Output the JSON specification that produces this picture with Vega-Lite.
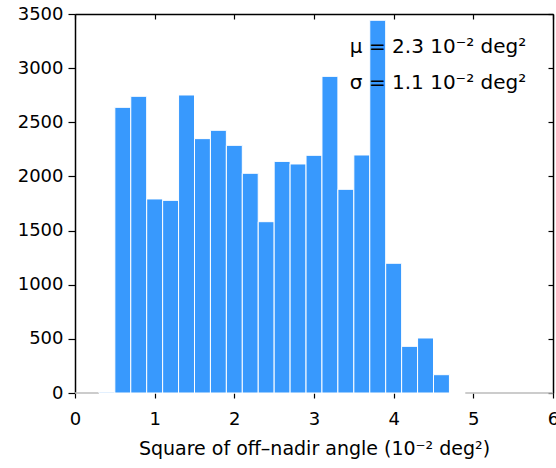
{
  "$schema": "https://vega.github.io/schema/vega-lite/v6.json",
  "autosize": "none",
  "width": 478,
  "height": 379,
  "padding": {"left": 75, "top": 14, "right": 3, "bottom": 75},
  "background": "white",
  "config": {
    "view": {"stroke": null},
    "font": "DejaVu Sans",
    "axis": {"grid": false, "domainColor": "black", "tickColor": "black", "labelColor": "black", "titleColor": "black", "domainWidth": 1.5, "tickWidth": 1.2}
  },
  "datasets": {
    "bins": [
      {"x0": 0.0, "x1": 0.3, "count": 0},
      {"x0": 0.3, "x1": 0.5, "count": 8},
      {"x0": 0.5, "x1": 0.7, "count": 2638},
      {"x0": 0.7, "x1": 0.9, "count": 2740},
      {"x0": 0.9, "x1": 1.1, "count": 1792},
      {"x0": 1.1, "x1": 1.3, "count": 1779},
      {"x0": 1.3, "x1": 1.5, "count": 2752},
      {"x0": 1.5, "x1": 1.7, "count": 2349},
      {"x0": 1.7, "x1": 1.9, "count": 2426},
      {"x0": 1.9, "x1": 2.1, "count": 2287},
      {"x0": 2.1, "x1": 2.3, "count": 2029},
      {"x0": 2.3, "x1": 2.5, "count": 1582},
      {"x0": 2.5, "x1": 2.7, "count": 2139},
      {"x0": 2.7, "x1": 2.9, "count": 2115},
      {"x0": 2.9, "x1": 3.1, "count": 2195},
      {"x0": 3.1, "x1": 3.3, "count": 2924},
      {"x0": 3.3, "x1": 3.5, "count": 1881},
      {"x0": 3.5, "x1": 3.7, "count": 2198},
      {"x0": 3.7, "x1": 3.9, "count": 3442},
      {"x0": 3.9, "x1": 4.1, "count": 1198},
      {"x0": 4.1, "x1": 4.3, "count": 431},
      {"x0": 4.3, "x1": 4.5, "count": 508},
      {"x0": 4.5, "x1": 4.7, "count": 169},
      {"x0": 4.9, "x1": 6.0, "count": 0}
    ],
    "notes": [
      {"x": 3.45, "y": 3195, "label": "μ = 2.3 10⁻² deg²"},
      {"x": 3.45, "y": 2863, "label": "σ = 1.1 10⁻² deg²"}
    ]
  },
  "resolve": {"axis": {"x": "independent", "y": "independent"}},
  "layer": [
    {
      "data": {"name": "bins"},
      "mark": {"type": "rect", "strokeWidth": 1},
      "encoding": {
        "x": {"field": "x0", "type": "quantitative",
              "scale": {"domain": [0, 6], "nice": false, "zero": false},
              "axis": {"orient": "bottom", "values": [0, 1, 2, 3, 4, 5, 6], "format": "d", "domain": false, "tickSize": 5, "labelFontSize": 18, "labelPadding": 12, "labelFlush": false,
                       "title": "Square of off–nadir angle (10⁻² deg²)", "titleFontSize": 19, "titleFontWeight": "normal", "titlePadding": 11}},
        "x2": {"field": "x1"},
        "y": {"field": "count", "type": "quantitative",
              "scale": {"domain": [0, 3500], "nice": false},
              "axis": {"orient": "left", "values": [0, 500, 1000, 1500, 2000, 2500, 3000, 3500], "format": "d", "tickSize": 7, "labelFontSize": 18, "labelPadding": 5, "title": null}},
        "y2": {"datum": 0},
        "fill": {"value": "#3899fd"},
        "stroke": {"condition": {"test": "datum.count == 0", "value": "#bbbbbb"}, "value": "#ffffff"}
      }
    },
    {
      "data": {"name": "bins"},
      "mark": {"type": "point", "opacity": 0},
      "encoding": {
        "x": {"field": "x1", "type": "quantitative",
              "axis": {"orient": "top", "values": [0, 1, 2, 3, 4, 5, 6], "domain": true, "labels": false, "ticks": true, "tickSize": -5, "title": null}},
        "y": {"field": "count", "type": "quantitative",
              "axis": {"orient": "right", "values": [0, 500, 1000, 1500, 2000, 2500, 3000, 3500], "domain": true, "labels": false, "ticks": true, "tickSize": -5, "title": null}}
      }
    },
    {
      "data": {"name": "notes"},
      "mark": {"type": "text", "align": "left", "baseline": "middle", "fontSize": 20, "color": "black"},
      "encoding": {
        "x": {"field": "x", "type": "quantitative", "axis": null},
        "y": {"field": "y", "type": "quantitative", "axis": null},
        "text": {"field": "label"}
      }
    }
  ]
}
